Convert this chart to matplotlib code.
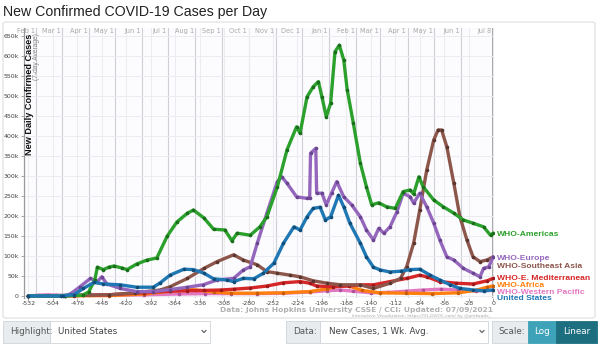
import numpy as np
import matplotlib
matplotlib.use('Agg')
import matplotlib.pyplot as plt
from matplotlib.patches import FancyBboxPatch, Rectangle
from matplotlib.lines import Line2D

# dados: dias relativos a 08/07/2021, casos em milhares (média de 7 dias)
americas_days = [-532, -490, -470, -463, -456, -453, -446, -440, -434, -425, -419, -408, -396, -385, -373,
                 -362, -350, -343, -331, -320, -307, -299, -293, -278, -267, -259, -247, -236, -225, -221,
                 -213, -206, -200, -196, -191, -186, -181, -176, -171, -167, -160, -152, -145, -139, -131,
                 -122, -112, -103, -95, -91, -85, -80, -68, -57, -45, -34, -23, -11, -3, 0]
americas_vals = [0, 0, 2, 10, 40, 72, 66, 72, 75, 70, 66, 80, 90, 95, 150,
                 185, 207, 215, 195, 167, 165, 138, 157, 152, 173, 198, 273, 365, 423, 407,
                 498, 523, 536, 498, 448, 482, 611, 627, 590, 515, 432, 332, 273, 228, 233,
                 223, 219, 261, 265, 255, 298, 273, 240, 223, 207, 190, 182, 173, 152, 157]

europe_days = [-532, -490, -484, -473, -461, -453, -448, -442, -427, -408, -389, -370, -350, -332, -316,
               -297, -286, -278, -270, -259, -247, -242, -236, -225, -213, -210, -209, -203, -202, -196,
               -191, -185, -179, -171, -162, -152, -145, -137, -131, -125, -118, -110, -103, -95, -91,
               -84, -76, -68, -61, -53, -45, -34, -23, -15, -11, -5, 0]
europe_vals = [0, 1, 5, 23, 44, 36, 48, 30, 19, 11, 11, 16, 22, 28, 40,
               44, 65, 73, 132, 207, 286, 298, 282, 248, 244, 246, 357, 369, 257, 257,
               228, 257, 286, 248, 228, 198, 165, 140, 169, 157, 173, 211, 257, 248, 232,
               257, 223, 182, 140, 98, 90, 69, 57, 48, 69, 73, 98]

seasia_days = [-532, -440, -410, -381, -370, -350, -331, -316, -297, -286, -270, -259, -247, -232, -221,
               -206, -190, -175, -152, -137, -118, -106, -99, -91, -84, -76, -68, -63, -59, -53,
               -45, -38, -30, -23, -15, -7, 0]
seasia_vals = [0, 3, 8, 15, 23, 44, 69, 86, 103, 90, 78, 61, 57, 52, 48,
               38, 32, 28, 28, 19, 32, 44, 73, 132, 215, 315, 390, 415, 415, 373,
               282, 198, 140, 98, 86, 90, 98]

emed_days = [-532, -480, -440, -400, -370, -350, -331, -312, -297, -278, -259, -240, -221, -210, -202,
             -183, -165, -152, -137, -118, -99, -84, -76, -61, -42, -23, -7, 0]
emed_vals = [0, 1, 3, 8, 12, 13, 14, 15, 17, 20, 25, 33, 36, 32, 25,
             23, 25, 28, 28, 36, 44, 52, 48, 36, 32, 30, 38, 44]

africa_days = [-532, -440, -400, -370, -350, -340, -320, -300, -270, -240, -210, -190, -175, -165, -150,
               -130, -100, -70, -40, -20, -7, 0]
africa_vals = [0, 1, 5, 12, 17, 15, 10, 7, 7, 8, 11, 18, 27, 25, 14,
               8, 7, 6, 8, 14, 22, 25]

wpac_days = [-532, -520, -510, -500, -490, -470, -440, -400, -360, -330, -300, -270, -240, -210, -190,
             -175, -160, -140, -120, -100, -80, -60, -40, -20, 0]
wpac_vals = [0, 2, 3, 2, 1, 2, 2, 3, 5, 6, 6, 6, 7, 10, 13,
             15, 12, 8, 9, 12, 15, 17, 15, 13, 14]

us_days = [-532, -495, -492, -480, -469, -457, -446, -427, -408, -389, -381, -370, -354, -343, -331,
           -320, -305, -297, -286, -274, -263, -251, -240, -228, -221, -213, -206, -198, -192, -186,
           -177, -171, -164, -152, -145, -137, -129, -118, -106, -95, -84, -72, -61, -49, -38,
           -23, -11, 0]
us_vals = [0, 0, 1, 3, 19, 34, 30, 28, 22, 22, 33, 52, 67, 66, 57,
           43, 40, 36, 44, 43, 57, 82, 132, 173, 165, 198, 219, 222, 190, 198,
           252, 223, 182, 132, 98, 72, 65, 60, 62, 66, 67, 52, 40, 28, 19,
           15, 13, 15]

# nome, dias, valores, cor da linha, cor dos pontos, posição (k) do rótulo
series = [
    ("WHO-Western Pacific", wpac_days, wpac_vals, '#e377c2', '#b0509a', 10),
    ("WHO-Africa", africa_days, africa_vals, '#ff7f0e', '#c85e05', 27),
    ("WHO-E. Mediterranean", emed_days, emed_vals, '#d62728', '#9c1a1b', 45),
    ("WHO-Southeast Asia", seasia_days, seasia_vals, '#8c564b', '#5a362f', 75),
    ("WHO-Europe", europe_days, europe_vals, '#9467bd', '#6a4691', 95),
    ("WHO-Americas", americas_days, americas_vals, '#2ca02c', '#1b6e1b', 155),
    ("United States", us_days, us_vals, '#1f77b4', '#124d78', -5),
]

W, H = 600, 346
fig = plt.figure(figsize=(W / 100, H / 100), dpi=100)

def fx(x):
    return x / W

def fy(y):
    return 1 - y / H

# moldura do gráfico
fig.patches.append(FancyBboxPatch((fx(3), fy(318)), fx(592), (318 - 22) / H,
                                  boxstyle="round,pad=0,rounding_size=0.005",
                                  transform=fig.transFigure, facecolor='white',
                                  edgecolor='#dddddd', linewidth=0.8, zorder=-5))

ax = fig.add_axes([fx(24), fy(297.6), 470 / W, (297.6 - 28) / H])
ax.set_facecolor('#fcfcfe')
ax.set_xlim(-537, 1)
ax.set_ylim(-4, 670)

# grade
xt = np.arange(-532, 1, 28)
ax.set_xticks(xt)
ax.set_xticklabels([str(v) for v in xt])
yt = np.arange(0, 651, 50)
ax.set_yticks(yt)
ax.set_yticklabels(['0'] + ['%dk' % v for v in yt[1:]])
ax.grid(True, color='#ebebf0', linewidth=0.7)
ax.tick_params(axis='both', labelsize=4.5, colors='#999999', labelcolor='#444444',
               length=2.5, width=0.6, pad=1.2)
ax.tick_params(axis='x', length=2, pad=0.8)
for s in ['top', 'right', 'bottom']:
    ax.spines[s].set_visible(False)
ax.spines['left'].set_color('#999999')
ax.spines['left'].set_linewidth(0.9)

# linhas dos meses no topo
month_names = ['Jan', 'Feb', 'Mar', 'Apr', 'May', 'Jun', 'Jul', 'Aug', 'Sep', 'Oct', 'Nov', 'Dec']
months = np.arange('2020-02', '2021-07', dtype='datetime64[M]')
ref = np.datetime64('2021-07-08')
mdays = list((months.astype('datetime64[D]') - ref).astype(int)) + [0]
mlabels = [month_names[int(str(m)[5:7]) - 1] + ' 1' for m in months] + ['Jul 8']
for d, lab in zip(mdays, mlabels):
    ax.axvline(d, color='#cfcfd6' if d != 0 else '#999999', linewidth=0.8 if d != 0 else 1.2, zorder=0.5)
    ax.text(d - 1.5, 1.0, lab, transform=ax.get_xaxis_transform(), ha='right', va='top',
            fontsize=4.8, color='#aaaaaa')

# séries
for name, days, vals, col, dot, ly in series:
    ax.plot(days, vals, color=col, linewidth=2.4, solid_capstyle='round', zorder=3,
            marker='o', markersize=1.6, markerfacecolor=dot, markeredgecolor=dot)
    ax.text(4, ly, name, color=col, fontsize=6.1, fontweight='bold', va='center',
            ha='left', clip_on=False, family='Liberation Sans')

# rótulo do eixo y dentro do gráfico
ax.text(-530.5, 656, 'New Daily Confirmed Cases', rotation=90, ha='center', va='top',
        fontsize=6.6, fontweight='bold', color='#111111', family='Liberation Sans')
ax.text(-523, 656, '(7-day Average)', rotation=90, ha='center', va='top',
        fontsize=4.8, color='#888888', family='Liberation Sans')

# título
fig.text(fx(3), fy(12), 'New Confirmed COVID-19 Cases per Day', ha='left', va='center',
         fontsize=10.2, color='#222222', family='Liberation Sans')

# fontes dos dados
fig.text(fx(493), fy(310), 'Data: Johns Hopkins University CSSE / CCI; Updated: 07/09/2021',
         ha='right', va='center', fontsize=5.4, color='#b0b0b0', fontweight='bold')
fig.text(fx(491), fy(316.5), 'Interactive Visualization: https://91-DIVOC.com/ by @profwade_',
         ha='right', va='center', fontsize=3.2, color='#aaaaaa')

# barra de controles
def box(x0, x1, fc, ec='#ced4da'):
    fig.patches.append(Rectangle((fx(x0), fy(343)), (x1 - x0) / W, 22 / H,
                                 transform=fig.transFigure, facecolor=fc, edgecolor=ec,
                                 linewidth=0.6))

def chevron(x):
    fig.lines.append(Line2D([fx(x - 2), fx(x), fx(x + 2)], [fy(330.5), fy(332.5), fy(330.5)],
                            transform=fig.transFigure, color='#555555', linewidth=0.8))

box(3, 50, '#e9ecef')
box(50, 210, 'white')
fig.text(fx(10), fy(332), 'Highlight:', fontsize=6.3, color='#555555', va='center')
fig.text(fx(58), fy(332), 'United States', fontsize=6.3, color='#444444', va='center')
chevron(204)

box(286, 320, '#e9ecef')
box(320, 488, 'white')
fig.text(fx(293), fy(332), 'Data:', fontsize=6.3, color='#555555', va='center')
fig.text(fx(329), fy(332), 'New Cases, 1 Wk. Avg.', fontsize=6.3, color='#444444', va='center')
chevron(482)

box(492, 528, '#e9ecef')
box(528, 556, '#3ea3b8', ec='#3ea3b8')
box(556, 597, '#1d6f80', ec='#1d6f80')
fig.text(fx(498), fy(332), 'Scale:', fontsize=6.3, color='#555555', va='center')
fig.text(fx(542), fy(332), 'Log', fontsize=6.3, color='white', va='center', ha='center')
fig.text(fx(576.5), fy(332), 'Linear', fontsize=6.3, color='white', va='center', ha='center')

fig.savefig('out.png', dpi=100)
